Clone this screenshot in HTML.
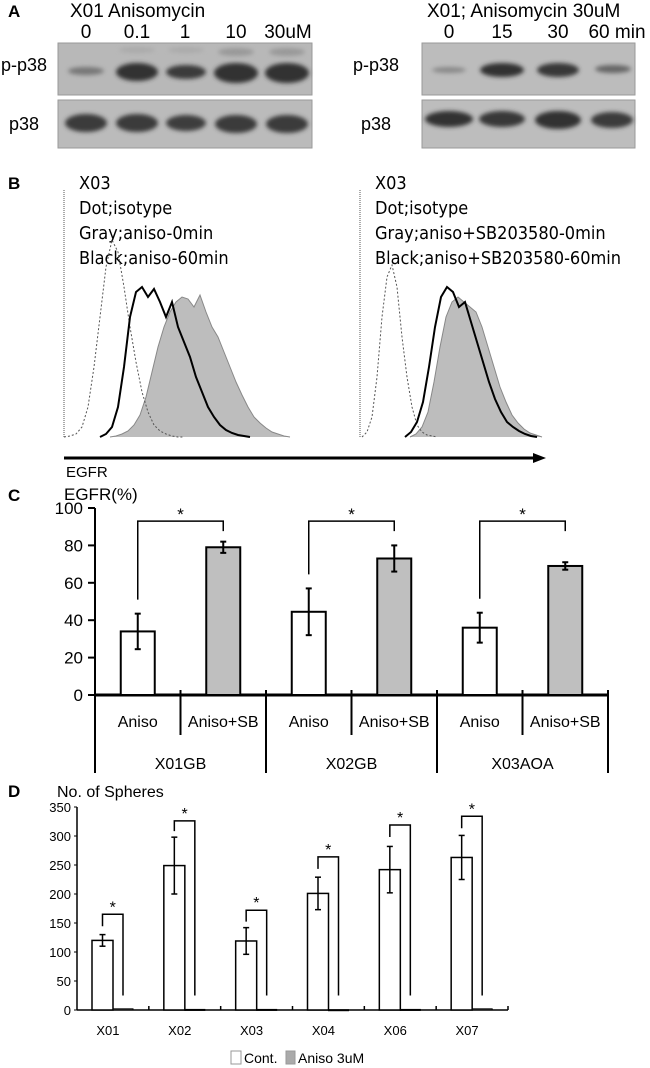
<!DOCTYPE html>
<html><head><meta charset="utf-8">
<style>
html,body{margin:0;padding:0;background:#fff;}
svg{display:block;font-family:"Liberation Sans",Arial,sans-serif;}
</style></head>
<body>
<svg id="fig" width="650" height="1068" viewBox="0 0 650 1068" xmlns="http://www.w3.org/2000/svg">
<defs>
<filter id="blur" x="-20%" y="-50%" width="140%" height="200%"><feGaussianBlur stdDeviation="2.2"/></filter>
</defs>
<!-- Panel A -->
<g>
<text x="8" y="17" font-size="17" font-weight="bold">A</text>
<text x="70" y="17" font-size="19">X01 Anisomycin</text>
<g font-size="19" text-anchor="middle">
<text x="86" y="38">0</text><text x="137" y="38">0.1</text><text x="185" y="38">1</text><text x="236" y="38">10</text><text x="288" y="38">30uM</text></g>
<text x="1" y="71" font-size="18">p-p38</text>
<text x="9" y="130" font-size="18">p38</text>
<rect x="58" y="43" width="254" height="52" fill="#b8b8b8" stroke="#999"/>
<rect x="58" y="100" width="254" height="48" fill="#bbbbbb" stroke="#999"/>
<g filter="url(#blur)" fill="#333">
<ellipse cx="86" cy="71" rx="18" ry="4" fill="#777"/>
<ellipse cx="137" cy="72" rx="21" ry="9"/><ellipse cx="137" cy="50" rx="18" ry="3" fill="#aaa"/>
<ellipse cx="186" cy="72" rx="20" ry="7" fill="#3a3a3a"/><ellipse cx="186" cy="50" rx="18" ry="3" fill="#aaa"/>
<ellipse cx="236" cy="73" rx="22" ry="10"/><ellipse cx="236" cy="52" rx="18" ry="4" fill="#999"/>
<ellipse cx="287" cy="73" rx="22" ry="10"/><ellipse cx="287" cy="52" rx="18" ry="4" fill="#999"/>
<ellipse cx="86" cy="123" rx="21" ry="9" fill="#3a3a3a"/>
<ellipse cx="137" cy="123" rx="21" ry="9" fill="#3a3a3a"/>
<ellipse cx="186" cy="123" rx="20" ry="8" fill="#3e3e3e"/>
<ellipse cx="236" cy="124" rx="21" ry="9" fill="#3a3a3a"/>
<ellipse cx="287" cy="124" rx="21" ry="9" fill="#3a3a3a"/>
</g>
<text x="427" y="17" font-size="19">X01; Anisomycin 30uM</text>
<g font-size="19" text-anchor="middle">
<text x="449" y="38">0</text><text x="502" y="38">15</text><text x="558" y="38">30</text><text x="617" y="38">60 min</text></g>
<text x="353" y="71" font-size="18">p-p38</text>
<text x="361" y="130" font-size="18">p38</text>
<rect x="422" y="43" width="213" height="52" fill="#bcbcbc" stroke="#999"/>
<rect x="422" y="100" width="213" height="48" fill="#bdbdbd" stroke="#999"/>
<g filter="url(#blur)">
<ellipse cx="449" cy="70" rx="17" ry="3" fill="#888"/>
<ellipse cx="502" cy="70" rx="22" ry="7" fill="#333"/>
<ellipse cx="558" cy="70" rx="21" ry="7" fill="#383838"/>
<ellipse cx="613" cy="69" rx="18" ry="4" fill="#666"/>
<ellipse cx="449" cy="119" rx="24" ry="8" fill="#333"/>
<ellipse cx="502" cy="119" rx="23" ry="8" fill="#383838"/>
<ellipse cx="558" cy="120" rx="23" ry="9" fill="#333"/>
<ellipse cx="612" cy="120" rx="21" ry="8" fill="#3a3a3a"/>
</g>
</g>
<!-- Panel B -->
<g>
<text x="8" y="189" font-size="17" font-weight="bold">B</text>
<g font-size="18" font-family="'DejaVu Sans Condensed','Liberation Sans',sans-serif">
<text x="79" y="189">X03</text><text x="79" y="214">Dot;isotype</text><text x="79" y="239">Gray;aniso-0min</text><text x="79" y="264">Black;aniso-60min</text></g>
<g font-size="18" font-family="'DejaVu Sans Condensed','Liberation Sans',sans-serif">
<text x="375" y="189">X03</text><text x="375" y="214">Dot;isotype</text><text x="375" y="239">Gray;aniso+SB203580-0min</text><text x="375" y="264">Black;aniso+SB203580-60min</text></g>
<line x1="64" y1="190" x2="64" y2="437" stroke="#555" stroke-dasharray="1,1"/>
<line x1="360" y1="190" x2="360" y2="437" stroke="#555" stroke-dasharray="1,1"/>
<g id="hists"></g>
<line x1="64" y1="458" x2="535" y2="458" stroke="#000" stroke-width="3"/>
<polygon points="533,453 546,458 533,463" fill="#000"/>
<text x="66" y="477" font-size="15">EGFR</text>
</g>
<!-- Panel C -->
<g id="panelC">
<text x="8" y="501" font-size="17" font-weight="bold">C</text>
<text x="64" y="500" font-size="17">EGFR(%)</text>
</g>
<!-- Panel D -->
<g id="panelD">
<text x="8" y="797" font-size="17" font-weight="bold">D</text>
<text x="57" y="797" font-size="16">No. of Spheres</text>
<rect x="231" y="1051" width="10" height="13" fill="#fff" stroke="#999"/>
<text x="244" y="1063" font-size="14">Cont.</text>
<rect x="286" y="1051" width="9" height="13" fill="#aaa" stroke="#999"/>
<text x="298" y="1063" font-size="14">Aniso 3uM</text>
</g>
</svg>
<script>
// ---- Panel B histogram data ----
const histLeftIsotype = [0,1,3,10,30,70,120,170,197,185,150,110,75,45,25,12,6,3,1,0,0];
const histLeftGray = [0,1,3,6,12,22,40,65,90,110,125,135,140,138,130,142,125,110,100,85,70,55,42,30,20,14,9,5,3,1,0];
const histLeftBlack = [0,3,10,30,70,120,145,150,140,148,135,120,135,110,95,80,60,45,30,20,12,7,4,2,1,0];
const histRightIsotype = [0,5,20,60,120,160,172,150,100,60,30,12,5,2,1,0];
const histRightGray = [0,3,10,25,55,90,120,135,140,135,130,125,110,90,70,50,35,22,14,8,4,2,0];
const histRightBlack = [0,5,15,35,70,110,140,150,145,130,135,115,95,75,55,38,25,15,10,6,3,1,0];
// ---- Panel C data ----
const cGroups = ['X01GB','X02GB','X03AOA'];
const cConds = ['Aniso','Aniso+SB'];
const cAniso = [34,44.5,36];
const cAnisoErr = [9.5,12.5,8];
const cSB = [79,73,69];
const cSBErr = [3,7,2];
const cTicks = [0,20,40,60,80,100];
// ---- Panel D data ----
const dCats = ['X01','X02','X03','X04','X06','X07'];
const dCont = [120,249,119,201,242,263];
const dContErr = [10,49,23,28,40,38];
const dAniso = [2,1,1,0.5,1,2];
const dTicks = [0,50,100,150,200,250,300,350];
const dSigTop = [165,326,172,264,319,334];

const NS='http://www.w3.org/2000/svg';
function mk(parent,tag,attrs){const e=document.createElementNS(NS,tag);for(const k in attrs)e.setAttribute(k,attrs[k]);parent.appendChild(e);return e;}

// Panel B
const hg=document.getElementById('hists');
const hBase=437, hScale=1.0;
function histPath(arr,x0,step){let d='M'+x0+','+hBase;arr.forEach((v,i)=>{d+=' L'+(x0+i*step)+','+(hBase-v*hScale);});d+=' L'+(x0+(arr.length-1)*step)+','+hBase;return d;}
let p;
p=mk(hg,'path',{d:histPath(histLeftGray,110,6),fill:'#bdbdbd',stroke:'#888','stroke-width':1});


p=mk(hg,'path',{d:histPath(histLeftIsotype,64,6),fill:'none',stroke:'#555','stroke-dasharray':'2,2'});


p=mk(hg,'path',{d:histPath(histLeftBlack,100,6),fill:'none',stroke:'#000','stroke-width':2});


p=mk(hg,'path',{d:histPath(histRightGray,410,6),fill:'#bdbdbd',stroke:'#888','stroke-width':1});


p=mk(hg,'path',{d:histPath(histRightIsotype,362,5),fill:'none',stroke:'#555','stroke-dasharray':'2,2'});


p=mk(hg,'path',{d:histPath(histRightBlack,405,6),fill:'none',stroke:'#000','stroke-width':2});



// Panel C
const gc=document.getElementById('panelC');
const cx0=95, cW=513/6, cy0=695, cyS=187/100;
const cy=v=>cy0-v*cyS;
mk(gc,'line',{x1:cx0,y1:cy(100),x2:cx0,y2:773,stroke:'#000','stroke-width':2});
mk(gc,'line',{x1:cx0,y1:cy0,x2:cx0+6*cW,y2:cy0,stroke:'#000','stroke-width':3});
cTicks.forEach(t=>{
 mk(gc,'line',{x1:cx0-7,y1:cy(t),x2:cx0,y2:cy(t),stroke:'#000','stroke-width':2});
 const tx=mk(gc,'text',{x:cx0-12,y:cy(t)+6,'font-size':17,'text-anchor':'end'});tx.textContent=t;
 
 
});
for(let i=1;i<=6;i++){
 const x=cx0+i*cW, long=(i%2===0);
 mk(gc,'line',{x1:x,y1:cy0-5,x2:x,y2:long?773:735,stroke:'#000','stroke-width':2});
}
cGroups.forEach((g,gi)=>{
 const vals=[cAniso[gi],cSB[gi]], errs=[cAnisoErr[gi],cSBErr[gi]];
 const centers=[];
 vals.forEach((v,j)=>{
  const c=cx0+(gi*2+j+0.5)*cW; centers.push(c);
  const b=mk(gc,'rect',{x:c-17,y:cy(v),width:34,height:cy0-cy(v),fill:j?'#bfbfbf':'#fff',stroke:'#000','stroke-width':2});
  
  
  mk(gc,'line',{x1:c,y1:cy(v+errs[j]),x2:c,y2:cy(v-errs[j]),stroke:'#000','stroke-width':2});
  mk(gc,'line',{x1:c-3,y1:cy(v+errs[j]),x2:c+3,y2:cy(v+errs[j]),stroke:'#000','stroke-width':2});
  mk(gc,'line',{x1:c-3,y1:cy(v-errs[j]),x2:c+3,y2:cy(v-errs[j]),stroke:'#000','stroke-width':2});
  const lt=mk(gc,'text',{x:c,y:727,'font-size':16,'text-anchor':'middle'});lt.textContent=cConds[j];
  
  
 });
 const top=cy(93);
 const br=mk(gc,'path',{d:`M${centers[0]},${cy(cAniso[gi]+cAnisoErr[gi])-14} V${top} H${centers[1]} V${top+10}`,fill:'none',stroke:'#000','stroke-width':1.5});
 
 
 const st=mk(gc,'text',{x:(centers[0]+centers[1])/2,y:top-1,'font-size':17,'text-anchor':'middle'});st.textContent='*';
 const gl=mk(gc,'text',{x:(centers[0]+centers[1])/2,y:769,'font-size':16,'text-anchor':'middle'});gl.textContent=g;
 
 
});

// Panel D
const gd=document.getElementById('panelD');
const dx0=77, dW=431/6, dy0=1010, dyS=174/300;
const dy=v=>dy0-v*dyS;
mk(gd,'line',{x1:dx0,y1:dy(350),x2:dx0,y2:dy0,stroke:'#000','stroke-width':1.5});
mk(gd,'line',{x1:dx0,y1:dy0,x2:dx0+6*dW,y2:dy0,stroke:'#000','stroke-width':1.5});
dTicks.forEach(t=>{
 mk(gd,'line',{x1:dx0-3,y1:dy(t),x2:dx0,y2:dy(t),stroke:'#000','stroke-width':1});
 const tx=mk(gd,'text',{x:dx0-6,y:dy(t)+5,'font-size':13,'text-anchor':'end'});tx.textContent=t;
 
 
});
for(let i=1;i<=6;i++){const x=dx0+i*dW;mk(gd,'line',{x1:x,y1:dy0,x2:x,y2:dy0-4,stroke:'#000','stroke-width':1.5});}
dCats.forEach((c,i)=>{
 const gs=dx0+i*dW;
 const c1=gs+25.5, c2=gs+46;
 const b1=mk(gd,'rect',{x:c1-10.5,y:dy(dCont[i]),width:21,height:dy0-dy(dCont[i]),fill:'#fff',stroke:'#000','stroke-width':1.5});
 
 
 const b2=mk(gd,'rect',{x:c2-10,y:dy(dAniso[i]),width:20,height:Math.max(1,dy0-dy(dAniso[i])),fill:'#aaa',stroke:'#000','stroke-width':1});
 
 
 const eT=dy(dCont[i]+dContErr[i]), eB=dy(dCont[i]-dContErr[i]);
 mk(gd,'line',{x1:c1,y1:eT,x2:c1,y2:eB,stroke:'#000','stroke-width':1.5});
 mk(gd,'line',{x1:c1-3,y1:eT,x2:c1+3,y2:eT,stroke:'#000','stroke-width':1.5});
 mk(gd,'line',{x1:c1-3,y1:eB,x2:c1+3,y2:eB,stroke:'#000','stroke-width':1.5});
 const top=dy(dSigTop[i]);
 const br=mk(gd,'path',{d:`M${c1},${Math.min(eT-6,top+12)} V${top} H${c2} V${dy(25)}`,fill:'none',stroke:'#000','stroke-width':1.5});
 
 
 const st=mk(gd,'text',{x:(c1+c2)/2,y:top-2,'font-size':16,'text-anchor':'middle'});st.textContent='*';
 const lb=mk(gd,'text',{x:gs+dW/2-5,y:1035,'font-size':13,'text-anchor':'middle'});lb.textContent=c;
 
 
});
</script>
</body></html>
